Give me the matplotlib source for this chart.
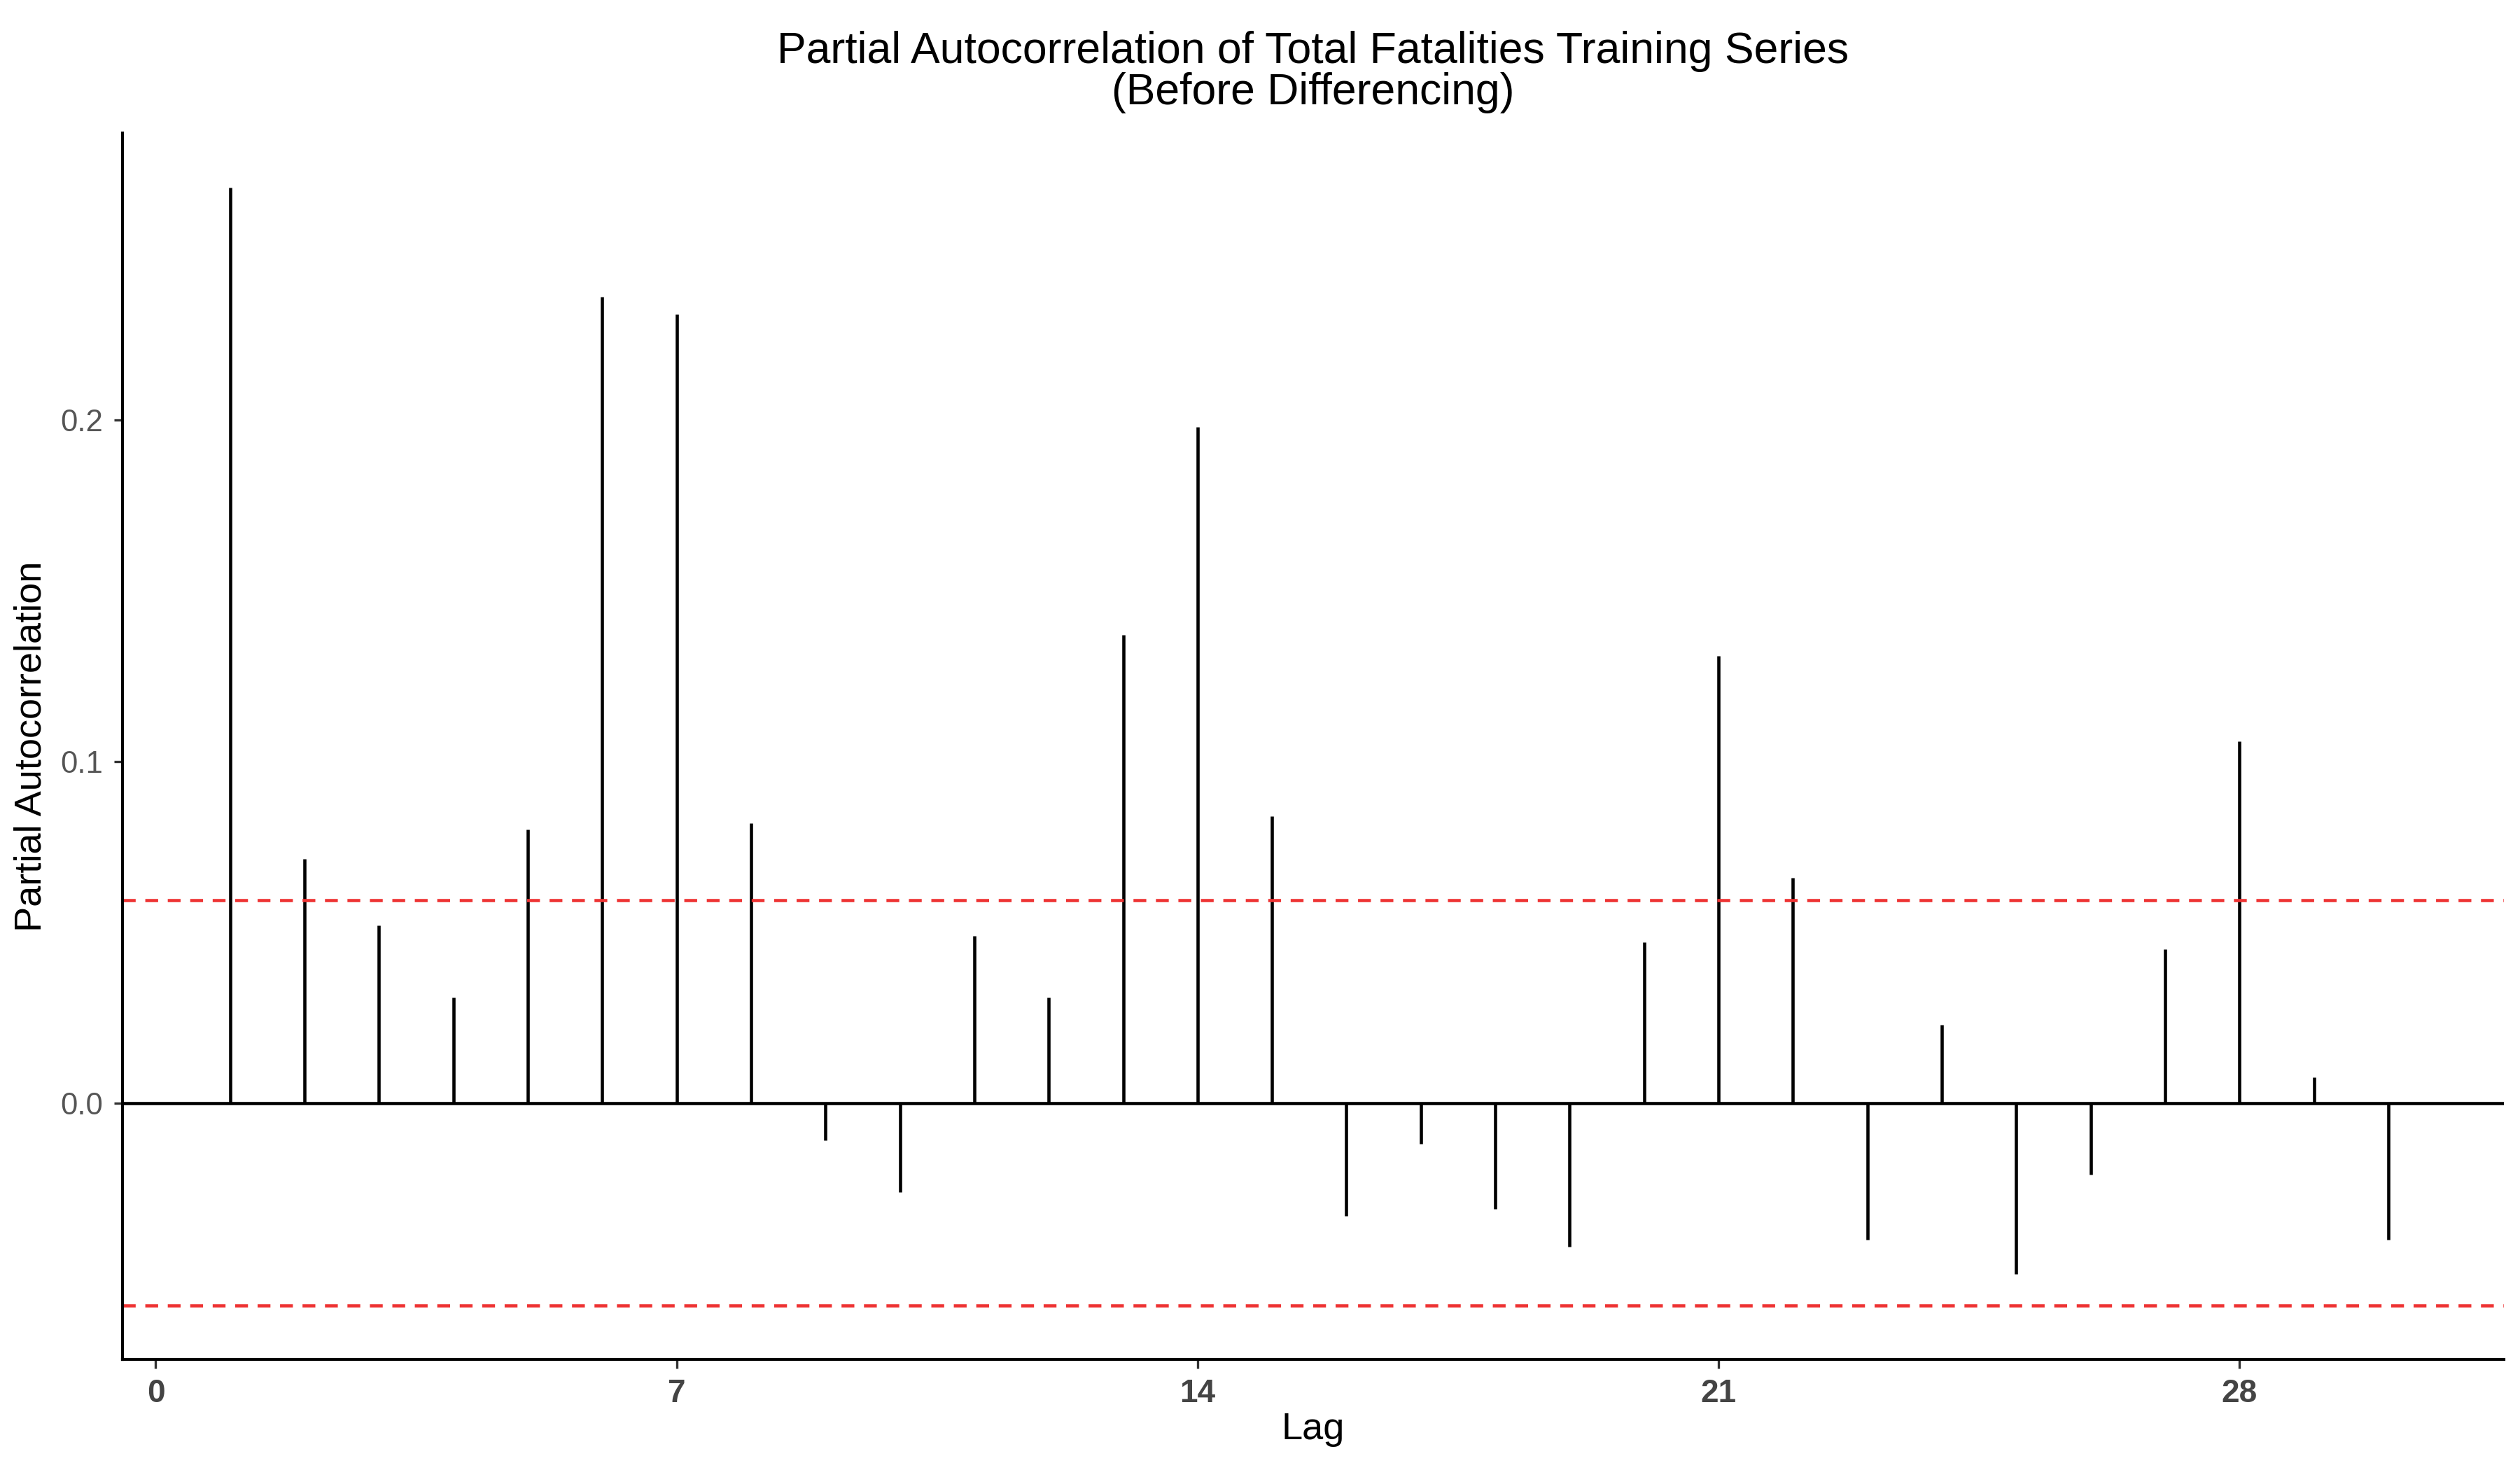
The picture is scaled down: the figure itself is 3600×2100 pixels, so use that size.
import matplotlib
matplotlib.use("Agg")
import matplotlib.pyplot as plt

plt.rcParams['font.family'] = ['Liberation Sans', 'DejaVu Sans']

# === dane PACF ===
lags = list(range(1, 31))
pacf = [0.268, 0.0715, 0.052, 0.031, 0.080, 0.236, 0.231, 0.082, -0.011, -0.026,
        0.049, 0.031, 0.137, 0.198, 0.084, -0.033, -0.012, -0.031, -0.042, 0.047,
        0.131, 0.066, -0.040, 0.023, -0.050, -0.021, 0.045, 0.106, 0.0075, -0.040]
ci = 0.0593
xticks = [0, 7, 14, 21, 28]
yticks = [0.0, 0.1, 0.2]

fig = plt.figure(figsize=(12, 7), dpi=300)
ax = fig.add_axes([0.0485, 0.0754, 0.945, 0.834])

ax.vlines(lags, 0, pacf, color='black', linewidth=1.1)
ax.axhline(0, color='black', linewidth=1.1)
ax.axhline(ci, color='#ee3333', linestyle=(0, (4, 3)), linewidth=1.1)
ax.axhline(-ci, color='#ee3333', linestyle=(0, (4, 3)), linewidth=1.1)

ax.set_xlim(-0.45, 31.55)
ax.set_ylim(-0.075, 0.284)
ax.set_xticks(xticks)
ax.set_xticklabels([str(t) for t in xticks], fontweight='bold', color='#444444', fontsize=11)
ax.set_yticks(yticks)
ax.set_yticklabels([f"{t:.1f}" for t in yticks], color='#555555', fontsize=10.5)
ax.tick_params(length=3, color='#333333')
for s in ['top', 'right']:
    ax.spines[s].set_visible(False)
for s in ['left', 'bottom']:
    ax.spines[s].set_linewidth(1.0)

ax.set_xlabel('Lag', fontsize=13, labelpad=1)
ax.set_ylabel('Partial Autocorrelation', fontsize=13)
ax.set_title('Partial Autocorrelation of Total Fatalities Training Series\n(Before Differencing)',
             fontsize=15, linespacing=1.0, pad=10)

fig.savefig('out.png')
